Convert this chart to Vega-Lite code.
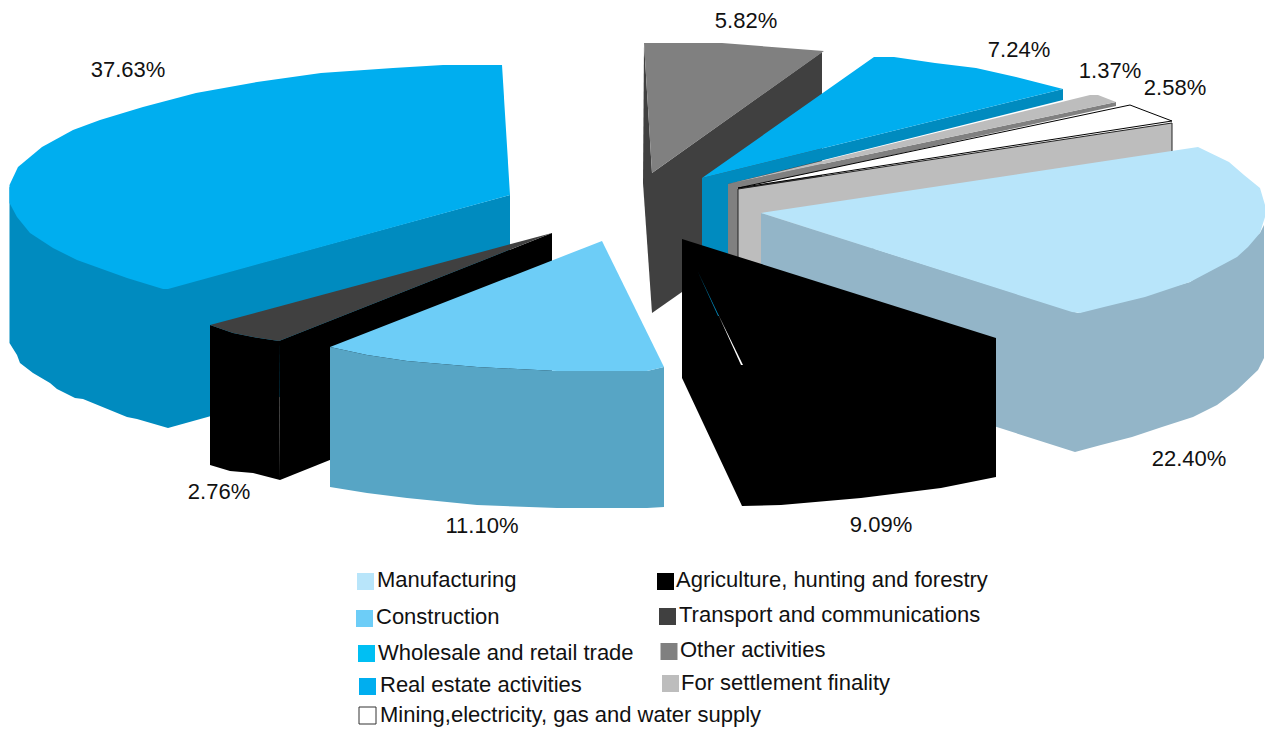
{"$schema":"https://vega.github.io/schema/vega-lite/v6.json","width":1265,"height":729,"padding":0,"autosize":{"type":"none"},"background":"white","config":{"view":{"stroke":null}},
"datasets":{"faces":[
{"part":"Other edge","vertex":1,"x":644,"y":43},{"part":"Other edge","vertex":2,"x":652,"y":173},{"part":"Other edge","vertex":3,"x":652,"y":313},{"part":"Other edge","vertex":4,"x":643,"y":183},
{"part":"Other side","vertex":1,"x":652,"y":173},{"part":"Other side","vertex":2,"x":822,"y":52},{"part":"Other side","vertex":3,"x":822,"y":194},{"part":"Other side","vertex":4,"x":652,"y":313},
{"part":"Other top","vertex":1,"x":644,"y":43},{"part":"Other top","vertex":2,"x":722,"y":43},{"part":"Other top","vertex":3,"x":772,"y":47},{"part":"Other top","vertex":4,"x":824,"y":51},{"part":"Other top","vertex":5,"x":652,"y":173},
{"part":"Wholesale side","vertex":1,"x":702,"y":178},{"part":"Wholesale side","vertex":2,"x":1063,"y":89},{"part":"Wholesale side","vertex":3,"x":1063,"y":100},{"part":"Wholesale side","vertex":4,"x":728,"y":184},{"part":"Wholesale side","vertex":5,"x":728,"y":265},{"part":"Wholesale side","vertex":6,"x":702,"y":262},
{"part":"Wholesale top","vertex":1,"x":702,"y":178},{"part":"Wholesale top","vertex":2,"x":874,"y":57},{"part":"Wholesale top","vertex":3,"x":894,"y":57},{"part":"Wholesale top","vertex":4,"x":935,"y":63},{"part":"Wholesale top","vertex":5,"x":976,"y":68},{"part":"Wholesale top","vertex":6,"x":1016,"y":77},{"part":"Wholesale top","vertex":7,"x":1063,"y":89},
{"part":"Settlement side","vertex":1,"x":728,"y":184},{"part":"Settlement side","vertex":2,"x":1116,"y":102},{"part":"Settlement side","vertex":3,"x":1116,"y":106},{"part":"Settlement side","vertex":4,"x":738,"y":189},{"part":"Settlement side","vertex":5,"x":738,"y":270},{"part":"Settlement side","vertex":6,"x":728,"y":265},
{"part":"Settlement top","vertex":1,"x":728,"y":184},{"part":"Settlement top","vertex":2,"x":1090,"y":95},{"part":"Settlement top","vertex":3,"x":1098,"y":95},{"part":"Settlement top","vertex":4,"x":1116,"y":102},
{"part":"Mining side","vertex":1,"x":738,"y":189},{"part":"Mining side","vertex":2,"x":1172,"y":123},{"part":"Mining side","vertex":3,"x":1172,"y":200},{"part":"Mining side","vertex":4,"x":738,"y":270},
{"part":"Mining top","vertex":1,"x":738,"y":188},{"part":"Mining top","vertex":2,"x":1130,"y":105},{"part":"Mining top","vertex":3,"x":1143,"y":110},{"part":"Mining top","vertex":4,"x":1172,"y":121},
{"part":"Manufacturing side","vertex":1,"x":761,"y":213},{"part":"Manufacturing side","vertex":2,"x":1078,"y":313},{"part":"Manufacturing side","vertex":3,"x":1190,"y":282},{"part":"Manufacturing side","vertex":4,"x":1260,"y":233},{"part":"Manufacturing side","vertex":5,"x":1264,"y":225},{"part":"Manufacturing side","vertex":6,"x":1264,"y":358},{"part":"Manufacturing side","vertex":7,"x":1258,"y":370},{"part":"Manufacturing side","vertex":8,"x":1237,"y":390},{"part":"Manufacturing side","vertex":9,"x":1217,"y":405},{"part":"Manufacturing side","vertex":10,"x":1193,"y":417},{"part":"Manufacturing side","vertex":11,"x":1162,"y":427},{"part":"Manufacturing side","vertex":12,"x":1132,"y":437},{"part":"Manufacturing side","vertex":13,"x":1101,"y":445},{"part":"Manufacturing side","vertex":14,"x":1075,"y":452},{"part":"Manufacturing side","vertex":15,"x":761,"y":352},
{"part":"Manufacturing top","vertex":1,"x":761,"y":213},{"part":"Manufacturing top","vertex":2,"x":1198,"y":147},{"part":"Manufacturing top","vertex":3,"x":1229,"y":162},{"part":"Manufacturing top","vertex":4,"x":1244,"y":175},{"part":"Manufacturing top","vertex":5,"x":1260,"y":188},{"part":"Manufacturing top","vertex":6,"x":1265,"y":205},{"part":"Manufacturing top","vertex":7,"x":1265,"y":217},{"part":"Manufacturing top","vertex":8,"x":1260,"y":233},{"part":"Manufacturing top","vertex":9,"x":1248,"y":247},{"part":"Manufacturing top","vertex":10,"x":1237,"y":257},{"part":"Manufacturing top","vertex":11,"x":1224,"y":264},{"part":"Manufacturing top","vertex":12,"x":1190,"y":282},{"part":"Manufacturing top","vertex":13,"x":1145,"y":297},{"part":"Manufacturing top","vertex":14,"x":1104,"y":307},{"part":"Manufacturing top","vertex":15,"x":1080,"y":313},{"part":"Manufacturing top","vertex":16,"x":1072,"y":312},
{"part":"Agriculture","vertex":1,"x":682,"y":239},{"part":"Agriculture","vertex":2,"x":996,"y":338},{"part":"Agriculture","vertex":3,"x":996,"y":477},{"part":"Agriculture","vertex":4,"x":941,"y":488},{"part":"Agriculture","vertex":5,"x":861,"y":498},{"part":"Agriculture","vertex":6,"x":781,"y":505},{"part":"Agriculture","vertex":7,"x":742,"y":506},{"part":"Agriculture","vertex":8,"x":682,"y":378},
{"part":"Agriculture seam blue","vertex":1,"x":698,"y":272},{"part":"Agriculture seam blue","vertex":2,"x":719,"y":316},{"part":"Agriculture seam blue","vertex":3,"x":718,"y":316},
{"part":"Agriculture seam white","vertex":1,"x":718,"y":314},{"part":"Agriculture seam white","vertex":2,"x":743,"y":365},{"part":"Agriculture seam white","vertex":3,"x":741,"y":365},
{"part":"Real estate outer","vertex":1,"x":9.5,"y":187},{"part":"Real estate outer","vertex":2,"x":168,"y":288},{"part":"Real estate outer","vertex":3,"x":168,"y":428},{"part":"Real estate outer","vertex":4,"x":137,"y":419},{"part":"Real estate outer","vertex":5,"x":127,"y":417},{"part":"Real estate outer","vertex":6,"x":83,"y":399},{"part":"Real estate outer","vertex":7,"x":75,"y":398},{"part":"Real estate outer","vertex":8,"x":57,"y":389},{"part":"Real estate outer","vertex":9,"x":50,"y":383},{"part":"Real estate outer","vertex":10,"x":33,"y":373},{"part":"Real estate outer","vertex":11,"x":20,"y":363},{"part":"Real estate outer","vertex":12,"x":17,"y":355},{"part":"Real estate outer","vertex":13,"x":9.5,"y":343},
{"part":"Real estate cut","vertex":1,"x":168,"y":288},{"part":"Real estate cut","vertex":2,"x":510,"y":195},{"part":"Real estate cut","vertex":3,"x":510,"y":333},{"part":"Real estate cut","vertex":4,"x":168,"y":428},
{"part":"Real estate top","vertex":1,"x":502,"y":65},{"part":"Real estate top","vertex":2,"x":443,"y":65},{"part":"Real estate top","vertex":3,"x":393,"y":68},{"part":"Real estate top","vertex":4,"x":321,"y":73},{"part":"Real estate top","vertex":5,"x":257,"y":82},{"part":"Real estate top","vertex":6,"x":196,"y":93},{"part":"Real estate top","vertex":7,"x":143,"y":107},{"part":"Real estate top","vertex":8,"x":100,"y":120},{"part":"Real estate top","vertex":9,"x":73,"y":130},{"part":"Real estate top","vertex":10,"x":42,"y":147},{"part":"Real estate top","vertex":11,"x":18,"y":167},{"part":"Real estate top","vertex":12,"x":9.5,"y":185},{"part":"Real estate top","vertex":13,"x":9.5,"y":203},{"part":"Real estate top","vertex":14,"x":17,"y":217},{"part":"Real estate top","vertex":15,"x":30,"y":233},{"part":"Real estate top","vertex":16,"x":53,"y":248},{"part":"Real estate top","vertex":17,"x":77,"y":260},{"part":"Real estate top","vertex":18,"x":127,"y":278},{"part":"Real estate top","vertex":19,"x":163,"y":289},{"part":"Real estate top","vertex":20,"x":168,"y":289},{"part":"Real estate top","vertex":21,"x":510,"y":195},
{"part":"Transport cut","vertex":1,"x":279,"y":341},{"part":"Transport cut","vertex":2,"x":552,"y":233},{"part":"Transport cut","vertex":3,"x":552,"y":371},{"part":"Transport cut","vertex":4,"x":280,"y":480},
{"part":"Transport outer","vertex":1,"x":210,"y":325},{"part":"Transport outer","vertex":2,"x":233,"y":333},{"part":"Transport outer","vertex":3,"x":253,"y":337},{"part":"Transport outer","vertex":4,"x":279,"y":341},{"part":"Transport outer","vertex":5,"x":280,"y":480},{"part":"Transport outer","vertex":6,"x":253,"y":473},{"part":"Transport outer","vertex":7,"x":230,"y":471},{"part":"Transport outer","vertex":8,"x":210,"y":465},
{"part":"Transport top","vertex":1,"x":552,"y":233},{"part":"Transport top","vertex":2,"x":210,"y":325},{"part":"Transport top","vertex":3,"x":233,"y":333},{"part":"Transport top","vertex":4,"x":253,"y":337},{"part":"Transport top","vertex":5,"x":279,"y":341},
{"part":"Construction side","vertex":1,"x":330,"y":347},{"part":"Construction side","vertex":2,"x":367,"y":355},{"part":"Construction side","vertex":3,"x":407,"y":361},{"part":"Construction side","vertex":4,"x":477,"y":367},{"part":"Construction side","vertex":5,"x":557,"y":371},{"part":"Construction side","vertex":6,"x":647,"y":371},{"part":"Construction side","vertex":7,"x":664,"y":367},{"part":"Construction side","vertex":8,"x":664,"y":507},{"part":"Construction side","vertex":9,"x":647,"y":508},{"part":"Construction side","vertex":10,"x":557,"y":508},{"part":"Construction side","vertex":11,"x":477,"y":505},{"part":"Construction side","vertex":12,"x":407,"y":498},{"part":"Construction side","vertex":13,"x":367,"y":493},{"part":"Construction side","vertex":14,"x":330,"y":487},
{"part":"Construction top","vertex":1,"x":602,"y":241},{"part":"Construction top","vertex":2,"x":330,"y":347},{"part":"Construction top","vertex":3,"x":367,"y":355},{"part":"Construction top","vertex":4,"x":407,"y":361},{"part":"Construction top","vertex":5,"x":477,"y":367},{"part":"Construction top","vertex":6,"x":557,"y":371},{"part":"Construction top","vertex":7,"x":647,"y":371},{"part":"Construction top","vertex":8,"x":664,"y":367}
],
"shares":[
{"share":0.3763,"x":128,"y":70},{"share":0.0582,"x":746,"y":21},{"share":0.0724,"x":1019,"y":50},{"share":0.0137,"x":1110,"y":71},{"share":0.0258,"x":1175,"y":88},{"share":0.2240,"x":1189,"y":459},{"share":0.0909,"x":881,"y":525},{"share":0.1110,"x":482,"y":526},{"share":0.0276,"x":219,"y":492}
],
"key":[
{"category":"Manufacturing","sx":365.5,"sy":581.5,"lx":377,"ly":580},
{"category":"Construction","sx":364.5,"sy":618.5,"lx":376,"ly":617},
{"category":"Wholesale and retail trade","sx":366.5,"sy":653.5,"lx":378,"ly":653},
{"category":"Real estate activities","sx":367.5,"sy":686.5,"lx":380,"ly":685},
{"category":"Mining,electricity, gas and water supply","sx":367.5,"sy":715.5,"lx":380,"ly":715},
{"category":"Agriculture, hunting and forestry","sx":665.5,"sy":581.5,"lx":676,"ly":580},
{"category":"Transport and communications","sx":667.5,"sy":616.5,"lx":679,"ly":615},
{"category":"Other activities","sx":669,"sy":651.5,"lx":680,"ly":650},
{"category":"For settlement finality","sx":670.5,"sy":683.5,"lx":681,"ly":683}
]},
"layer":[
{"data":{"name":"faces"},"mark":{"type":"line","strokeWidth":1,"interpolate":"linear-closed","clip":false},
"encoding":{
"x":{"field":"x","type":"quantitative","scale":{"domain":[0,1265],"nice":false,"zero":false},"axis":null},
"y":{"field":"y","type":"quantitative","scale":{"domain":[729,0],"nice":false,"zero":false},"axis":null},
"order":{"field":"vertex","type":"quantitative"},
"detail":{"field":"part"},
"fill":{"field":"part","type":"nominal","legend":null,"sort":null,"scale":{
"domain":["Other edge","Other side","Other top","Wholesale side","Wholesale top","Settlement side","Settlement top","Mining side","Mining top","Manufacturing side","Manufacturing top","Agriculture","Agriculture seam blue","Agriculture seam white","Real estate outer","Real estate cut","Real estate top","Transport cut","Transport outer","Transport top","Construction side","Construction top"],
"range":["#404040","#404040","#808080","#008bbf","#00aeef","#808080","#bdbdbd","#bdbdbd","#ffffff","#93b5c8","#b8e5fa","#000000","#008bbf","#ffffff","#008bbf","#008bbf","#00aeef","#000000","#000000","#404040","#57a5c5","#6dcdf7"]}},
"stroke":{"field":"part","type":"nominal","legend":null,"sort":null,"scale":{
"domain":["Other edge","Other side","Other top","Wholesale side","Wholesale top","Settlement side","Settlement top","Mining side","Mining top","Manufacturing side","Manufacturing top","Agriculture","Agriculture seam blue","Agriculture seam white","Real estate outer","Real estate cut","Real estate top","Transport cut","Transport outer","Transport top","Construction side","Construction top"],
"range":["transparent","transparent","transparent","transparent","transparent","transparent","transparent","#222222","#000000","transparent","transparent","transparent","transparent","transparent","transparent","transparent","transparent","transparent","transparent","transparent","transparent","transparent"]}}
}},
{"data":{"name":"shares"},"mark":{"type":"text","font":"Liberation Sans","fontSize":22,"color":"#111111","align":"center","baseline":"middle"},
"encoding":{"x":{"field":"x","type":"quantitative","scale":{"domain":[0,1265],"nice":false,"zero":false},"axis":null},"y":{"field":"y","type":"quantitative","scale":{"domain":[729,0],"nice":false,"zero":false},"axis":null},"text":{"field":"share","type":"quantitative","format":".2%"}}},
{"data":{"name":"key"},"mark":{"type":"square","size":289,"opacity":1,"strokeWidth":1},
"encoding":{"x":{"field":"sx","type":"quantitative","scale":{"domain":[0,1265],"nice":false,"zero":false},"axis":null},"y":{"field":"sy","type":"quantitative","scale":{"domain":[729,0],"nice":false,"zero":false},"axis":null},
"fill":{"field":"category","type":"nominal","legend":null,"scale":{"domain":["Manufacturing","Construction","Wholesale and retail trade","Real estate activities","Mining,electricity, gas and water supply","Agriculture, hunting and forestry","Transport and communications","Other activities","For settlement finality"],"range":["#b8e5fa","#6dcdf7","#00bff3","#00aeef","#ffffff","#000000","#404040","#808080","#bdbdbd"]}},
"stroke":{"field":"category","type":"nominal","legend":null,"scale":{"domain":["Manufacturing","Construction","Wholesale and retail trade","Real estate activities","Mining,electricity, gas and water supply","Agriculture, hunting and forestry","Transport and communications","Other activities","For settlement finality"],"range":["transparent","transparent","transparent","transparent","#333333","transparent","transparent","transparent","transparent"]}}}},
{"data":{"name":"key"},"mark":{"type":"text","font":"Liberation Sans","fontSize":22,"color":"#111111","align":"left","baseline":"middle"},
"encoding":{"x":{"field":"lx","type":"quantitative","scale":{"domain":[0,1265],"nice":false,"zero":false},"axis":null},"y":{"field":"ly","type":"quantitative","scale":{"domain":[729,0],"nice":false,"zero":false},"axis":null},"text":{"field":"category","type":"nominal"}}}
],
"resolve":{"scale":{"fill":"independent","stroke":"independent"}}}
